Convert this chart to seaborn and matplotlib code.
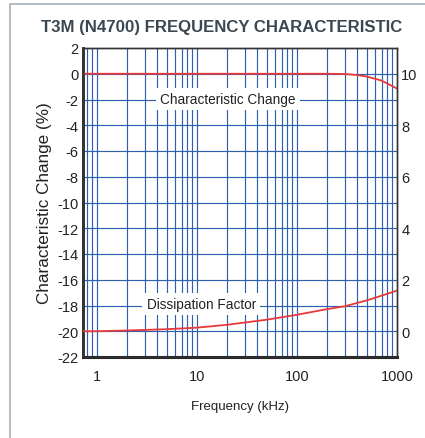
import matplotlib
matplotlib.use("Agg")
import matplotlib.pyplot as plt
import seaborn as sns
import pandas as pd
from matplotlib.patches import Rectangle

# data
freq_khz = [0.72, 1, 2, 5, 10, 20, 50, 100, 200, 300, 400, 500, 700, 1000]
char_change = [0, 0, 0, 0, 0, 0, 0, 0, 0, -0.02, -0.1, -0.22, -0.53, -1.15]
diss_factor = [0, 0.0, 0.03, 0.08, 0.14, 0.25, 0.45, 0.64, 0.86, 0.97, 1.1, 1.2, 1.38, 1.58]

left_ticks = list(range(-22, 3, 2))
right_ticks = [0, 2, 4, 6, 8, 10]
x_ticks = [1, 10, 100, 1000]

df = pd.DataFrame({"freq": freq_khz, "cc": char_change, "df": diss_factor})

sns.set_style("white")
plt.rcParams["font.family"] = ["Liberation Sans", "DejaVu Sans"]

TEXT = "#222222"
GRID = "#2f60b0"
RED = "#e8393a"

fig = plt.figure(figsize=(4.25, 4.39), dpi=100)
ax = fig.add_axes([83 / 425, 1 - 358 / 439, 314 / 425, 309 / 439])
ax2 = ax.twinx()

ax.set_xscale("log")
ax.set_xlim(0.724, 1000)
ax.set_ylim(-22, 2)
ax2.set_ylim(-1, 11)

# grid
for y in left_ticks[1:-1]:
    ax.axhline(y, color=GRID, lw=0.85, zorder=1)
for dec in [0.1, 1, 10, 100]:
    for m in range(1, 10):
        x = dec * m
        if 0.724 < x < 1000:
            ax.axvline(x, color=GRID, lw=0.85, zorder=1)

sns.lineplot(data=df, x="freq", y="cc", ax=ax, color=RED, lw=1.3, zorder=3)
sns.lineplot(data=df, x="freq", y="df", ax=ax2, color=RED, lw=1.3, zorder=3)

ax.set_xticks(x_ticks)
ax.set_xticklabels([str(v) for v in x_ticks])
ax.set_xticks([], minor=True)
ax.set_yticks(left_ticks)
ax.set_yticklabels([str(v) for v in left_ticks])
ax2.set_yticks(right_ticks)
ax2.set_yticklabels([str(v) for v in right_ticks])

for a in (ax, ax2):
    a.tick_params(axis="both", length=0, labelsize=10.5, colors=TEXT, pad=3)
    for s in a.spines.values():
        s.set_color("#333333")
        s.set_linewidth(1.0)
ax.tick_params(axis="x", pad=9)
ax.spines["left"].set_linewidth(2.0)
ax.spines["bottom"].set_linewidth(2.2)
ax.spines["left"].set_color("#222222")
ax.spines["bottom"].set_color("#222222")

ax.set_xlabel("Frequency (kHz)", fontsize=9.5, color=TEXT, labelpad=12)
ax.set_ylabel("Characteristic Change (%)", fontsize=12.3, color=TEXT, labelpad=4)
ax2.set_ylabel("")

# in-plot labels with white background
ax.text(20.4, -1.95, "Characteristic Change", fontsize=9.8, color=TEXT, ha="center", va="center",
        bbox=dict(facecolor="white", edgecolor="none", pad=3), zorder=4)
ax.text(11, -17.9, "Dissipation Factor", fontsize=9.8, color=TEXT, ha="center", va="center",
        bbox=dict(facecolor="white", edgecolor="none", pad=3), zorder=4)

fig.text(0.522, 0.938, "T3M (N4700) FREQUENCY CHARACTERISTIC", ha="center", va="center",
         fontsize=12.1, fontweight="bold", color="#3b4852")

# outer panel border
fig.add_artist(Rectangle((10 / 425, -0.05), 1.2, 1 - 4.5 / 439 + 0.05, transform=fig.transFigure,
                         fill=False, edgecolor="#a8b0b6", lw=1.2))

fig.savefig("out.png", dpi=100)
plt.close(fig)
